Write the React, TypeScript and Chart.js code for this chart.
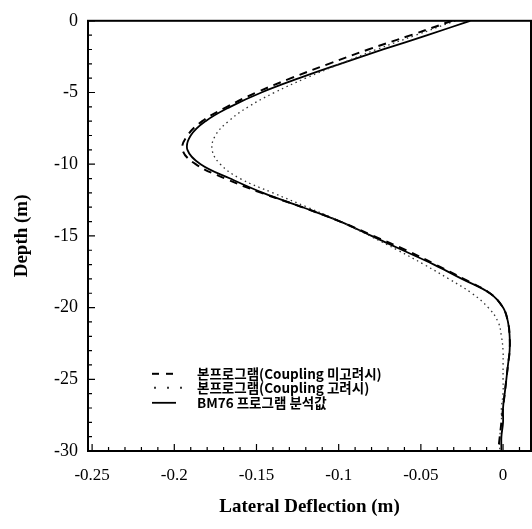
import React, { useEffect, useRef } from "react";
import { Chart, registerables } from "chart.js";

Chart.register(...registerables);

// Depth (m) of each sampled point
const depths = [0, -1, -2, -3, -4, -5, -6, -7, -8, -9, -10, -11, -12, -13, -14, -15, -16, -17, -18, -19, -20, -21, -22, -23, -24, -25, -26, -27, -28, -29, -30];

// Lateral deflection (m): 본프로그램 (Coupling 미고려시) - dashed
const uncoupled = [-0.031, -0.056, -0.082, -0.106, -0.129, -0.150, -0.168, -0.183, -0.192, -0.195, -0.187, -0.169, -0.147, -0.122, -0.099, -0.079, -0.059, -0.041, -0.024, -0.008, 0.000, 0.003, 0.004, 0.004, 0.003, 0.002, 0.001, 0.000, -0.001, -0.002, -0.003];

// Lateral deflection (m): 본프로그램 (Coupling 고려시) - dotted
const coupled = [-0.029, -0.053, -0.077, -0.099, -0.120, -0.139, -0.155, -0.167, -0.175, -0.177, -0.172, -0.160, -0.140, -0.119, -0.099, -0.081, -0.064, -0.048, -0.033, -0.019, -0.009, -0.003, -0.001, 0.000, 0.000, 0.000, 0.000, -0.001, -0.001, -0.002, -0.002];

// Lateral deflection (m): BM76 프로그램 분석값 - solid
const bm76 = [-0.020, -0.046, -0.073, -0.099, -0.124, -0.147, -0.166, -0.181, -0.190, -0.192, -0.184, -0.166, -0.146, -0.122, -0.099, -0.080, -0.061, -0.042, -0.025, -0.008, 0.000, 0.003, 0.004, 0.004, 0.003, 0.002, 0.001, 0.000, 0.000, -0.001, -0.001];

const seriesLabels = [
  "본프로그램(Coupling 미고려시)",
  "본프로그램(Coupling 고려시)",
  "BM76 프로그램 분석값",
];

const xTicks = [-0.25, -0.2, -0.15, -0.1, -0.05, 0];
const xTickLabels = ["-0.25", "-0.2", "-0.15", "-0.1", "-0.05", "0"];
const yTicks = [0, -5, -10, -15, -20, -25, -30];
const yTickLabels = ["0", "-5", "-10", "-15", "-20", "-25", "-30"];

const toPoints = (xs: number[]) => xs.map((v, i) => ({ x: v, y: depths[i] }));

const framePlugin = {
  id: "frameTicks",
  afterDraw(chart: any) {
    const { ctx, chartArea: a, scales } = chart;
    const x = scales.x;
    const y = scales.y;
    ctx.save();
    ctx.strokeStyle = "#000";
    ctx.lineWidth = 2;
    ctx.strokeRect(a.left, a.top, a.right - a.left, a.bottom - a.top);
    ctx.lineWidth = 1.2;
    ctx.beginPath();
    for (let v = -30; v <= 0; v++) {
      const py = y.getPixelForValue(v);
      const len = v % 5 === 0 ? 7 : 4;
      ctx.moveTo(a.left, py);
      ctx.lineTo(a.left + len, py);
    }
    for (let i = -25; i <= 1; i++) {
      const px = x.getPixelForValue(i / 100);
      const len = i % 5 === 0 ? 7 : 4;
      ctx.moveTo(px, a.bottom);
      ctx.lineTo(px, a.bottom - len);
    }
    ctx.stroke();

    // legend
    const rows = [353, 367, 382];
    const sx0 = a.left + 64;
    const sx1 = a.left + 88;
    const tx = a.left + 109;
    ctx.fillStyle = "#000";
    ctx.font = "bold 13.5px 'Noto Sans CJK KR'";
    ctx.textBaseline = "middle";
    ctx.textAlign = "left";
    rows.forEach((r, i) => {
      const ds = chart.data.datasets[i];
      const py = a.top + r;
      ctx.save();
      ctx.strokeStyle = ds.borderColor;
      ctx.lineWidth = ds.borderWidth;
      if (i === 1) {
        ctx.setLineDash([2, 11]);
        ctx.lineWidth = 2;
        ctx.beginPath();
        ctx.moveTo(sx0 + 2, py);
        ctx.lineTo(sx1 + 6, py);
        ctx.stroke();
      } else {
        ctx.setLineDash(i === 0 ? [7, 7] : []);
        ctx.beginPath();
        ctx.moveTo(sx0, py);
        ctx.lineTo(sx1, py);
        ctx.stroke();
      }
      ctx.restore();
      ctx.fillText(seriesLabels[i], tx, py);
    });
    ctx.restore();
  },
};

export default function App() {
  const ref = useRef<HTMLCanvasElement | null>(null);
  useEffect(() => {
    if (!ref.current) return;
    const serif = "'Liberation Serif', 'Times New Roman', serif";
    const chart = new Chart(ref.current, {
      type: "scatter",
      data: {
        datasets: [
          {
            label: seriesLabels[0],
            data: toPoints(uncoupled),
            showLine: true,
            borderColor: "#000",
            borderWidth: 2,
            borderDash: [8, 6],
            pointRadius: 0,
            tension: 0.4,
          },
          {
            label: seriesLabels[1],
            data: toPoints(coupled),
            showLine: true,
            borderColor: "#333",
            borderWidth: 1.3,
            borderDash: [1.5, 3.5],
            pointRadius: 0,
            tension: 0.4,
          },
          {
            label: seriesLabels[2],
            data: toPoints(bm76),
            showLine: true,
            borderColor: "#000",
            borderWidth: 1.8,
            pointRadius: 0,
            tension: 0.4,
          },
        ],
      },
      options: {
        responsive: false,
        animation: false,
        devicePixelRatio: 1,
        layout: { padding: { top: 14, right: 1, left: 0, bottom: 0 } },
        plugins: {
          legend: { display: false },
          tooltip: { enabled: false },
        },
        scales: {
          x: {
            type: "linear",
            position: "bottom",
            min: -0.2525,
            max: 0.017,
            grid: { display: false, drawTicks: false },
            border: { display: false },
            afterBuildTicks: (s: any) => {
              s.ticks = xTicks.map((v) => ({ value: v }));
            },
            afterFit: (s: any) => {
              s.height = 78;
            },
            ticks: {
              autoSkip: false,
              maxRotation: 0,
              padding: 14,
              color: "#000",
              font: { family: serif, size: 17 },
              callback: (v: any) => {
                const idx = xTicks.findIndex((t) => Math.abs(t - v) < 1e-9);
                return idx >= 0 ? xTickLabels[idx] : "";
              },
            },
            title: {
              display: true,
              text: "Lateral Deflection (m)",
              color: "#000",
              font: { family: serif, size: 19, weight: "bold" },
              padding: { top: 0, bottom: 11 },
            },
          },
          y: {
            type: "linear",
            min: -30,
            max: 0,
            grid: { display: false, drawTicks: false },
            border: { display: false },
            afterBuildTicks: (s: any) => {
              s.ticks = yTicks.map((v) => ({ value: v }));
            },
            afterFit: (s: any) => {
              s.width = 88;
            },
            ticks: {
              autoSkip: false,
              padding: 10,
              color: "#000",
              font: { family: serif, size: 18 },
              callback: (v: any) => {
                const idx = yTicks.findIndex((t) => Math.abs(t - v) < 1e-9);
                return idx >= 0 ? yTickLabels[idx] : "";
              },
            },
            title: {
              display: true,
              text: "Depth (m)",
              color: "#000",
              font: { family: serif, size: 19, weight: "bold" },
              padding: { top: 11, bottom: 0 },
            },
          },
        },
      },
      plugins: [framePlugin],
    } as any);
    return () => chart.destroy();
  }, []);
  return (
    <div style={{ position: "absolute", left: 0, top: 0, width: 532, height: 529, background: "#fff" }}>
      <canvas ref={ref} width={532} height={529} style={{ width: 532, height: 529, display: "block" }} />
    </div>
  );
}
